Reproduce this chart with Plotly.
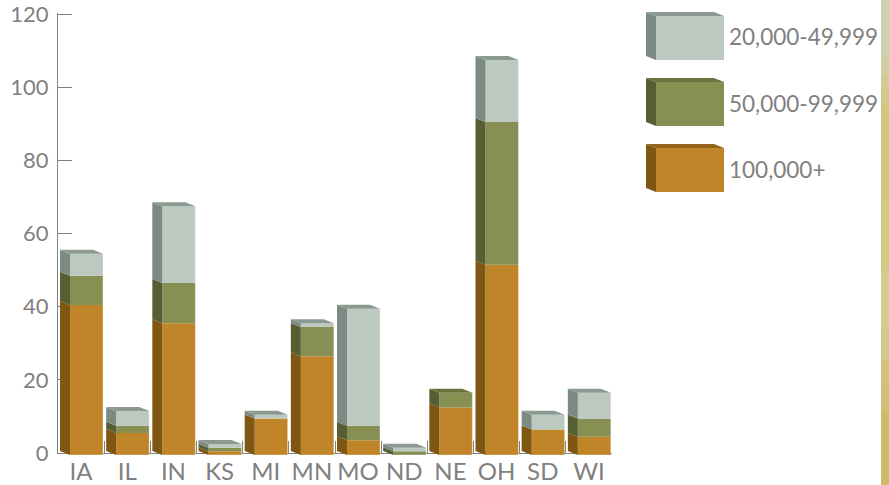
import plotly.graph_objects as go

states = ["IA", "IL", "IN", "KS", "MI", "MN", "MO", "ND", "NE", "OH", "SD", "WI"]
band_100k = [41, 6, 36, 1, 10, 27, 4, 0, 13, 52, 7, 5]
band_50k = [8, 2, 11, 1, 0, 8, 4, 1, 4, 39, 0, 5]
band_20k = [6, 4, 21, 1, 1, 1, 32, 1, 0, 17, 4, 7]
y_ticks = [0, 20, 40, 60, 80, 100, 120]

series = [
    ("100,000+", band_100k, "#C08529", "#7F5712", "#946518"),
    ("50,000-99,999", band_50k, "#878F52", "#565F33", "#6A733F"),
    ("20,000-49,999", band_20k, "#BCC9C0", "#7C8A84", "#8A9A90"),
]

W, H = 889, 485
GREY = "#808080"
FONT = "Lato"

# pixel geometry of the axes frame and of the extruded bars
AX_L, AX_R, AX_T, AX_B = 58, 612, 14, 453
PX_X = (AX_R - AX_L) / 12
PX_Y = (AX_B - AX_T) / 120
BAR_W, DEPTH_X, DEPTH_Y = 33, 10, 4
FRONT_X0, FRONT_Y0 = 86.5, 455
# a sliver of headroom keeps the top tick inside the y range
Y_HEAD = 0.3

# the marks live on their own wider subplot so the depth faces are not clipped
M_L, M_R, M_T, M_B = 40, 640, 4, 470
x2_range = [(M_L - FRONT_X0) / PX_X, (M_R - FRONT_X0) / PX_X]
y2_range = [(FRONT_Y0 - M_B) / PX_Y, (FRONT_Y0 - M_T) / PX_Y]
half = BAR_W / PX_X / 2
dx, dy = DEPTH_X / PX_X, DEPTH_Y / PX_Y

fig = go.Figure()

# carries the category axis with its ticks between the states
fig.add_trace(go.Scatter(x=states, y=[0] * 12, mode="none", showlegend=False,
                         hoverinfo="skip", xaxis="x", yaxis="y"))

index = list(range(len(states)))
cum = [0] * len(states)
tops = {}
for name, vals, front, side, top in series:
    sx, sy = [], []
    for i, v in enumerate(vals):
        if v:
            xl, lo, hi = i - half, cum[i], cum[i] + v
            sx += [xl, xl, xl - dx, xl - dx, xl, None]
            sy += [lo, hi, hi + dy, lo + dy, lo, None]
            tops[i] = (hi, top)
    fig.add_trace(go.Scatter(x=sx, y=sy, mode="lines", line=dict(width=0), fill="toself",
                             fillcolor=side, showlegend=False, hoverinfo="skip",
                             xaxis="x2", yaxis="y2"))
    fig.add_trace(go.Bar(x=index, y=vals, base=cum, width=BAR_W / PX_X, name=name,
                         marker=dict(color=front, line=dict(width=0)),
                         showlegend=False, xaxis="x2", yaxis="y2"))
    cum = [c + v for c, v in zip(cum, vals)]

# top faces take the colour of the highest non-empty band
for i, (hi, color) in tops.items():
    xl, xr = i - half, i + half
    fig.add_trace(go.Scatter(x=[xl, xr, xr - dx, xl - dx, xl], y=[hi, hi, hi + dy, hi + dy, hi],
                             mode="lines", line=dict(width=0), fill="toself", fillcolor=color,
                             showlegend=False, hoverinfo="skip", xaxis="x2", yaxis="y2"))

# thin highlight along the bottom and right of every front face
for i in index:
    xr = i + half
    fig.add_trace(go.Scatter(x=[i - half, xr, xr], y=[0, 0, cum[i]], mode="lines",
                             line=dict(width=1, color="rgba(255,255,255,0.35)"),
                             showlegend=False, hoverinfo="skip", xaxis="x2", yaxis="y2"))

shapes, annotations = [], []

def px_x(v):
    return v / W

def px_y(v):
    return 1 - v / H

def poly(points, color):
    path = "M " + " L ".join(f"{px_x(x):.5f},{px_y(y):.5f}" for x, y in points) + " Z"
    return dict(type="path", xref="paper", yref="paper", path=path,
                fillcolor=color, line=dict(width=0), layer="above")

# legend keys: same extruded block as the bars
LEG_L, LEG_R, LEG_H = 656, 724, 44
for (name, _, front, side, top), t, ty in zip(reversed(series), [16, 82, 148], [37, 103, 169]):
    b = t + LEG_H
    shapes.append(poly([(LEG_L, t), (LEG_L, b), (LEG_L - 10, b - 4), (LEG_L - 10, t - 4)], side))
    shapes.append(poly([(LEG_L, t), (LEG_R, t), (LEG_R - 10, t - 4), (LEG_L - 10, t - 4)], top))
    shapes.append(poly([(LEG_L, t), (LEG_R, t), (LEG_R, b), (LEG_L, b)], front))
    annotations.append(dict(text=name, xref="paper", yref="paper", x=px_x(727), y=px_y(ty),
                            xanchor="left", yanchor="middle", showarrow=False,
                            font=dict(family=FONT, size=22.5, color=GREY)))

# textured backdrop strip at the right edge
strip_bands = [(0, 60, "#CED2AC"), (60, 75, "#D0CFA3"), (75, 90, "#D2CB96"), (90, 105, "#D3C88A"),
               (105, 200, "#D3C67F"), (200, 270, "#D4C985"), (270, 330, "#D2CC93"),
               (330, 360, "#D2C98A"), (360, 385, "#D2C47E"), (385, 410, "#D0BF74"),
               (410, 485, "#CFBB6A")]
for y0, y1, c in strip_bands:
    shapes.append(dict(type="rect", xref="paper", yref="paper", x0=px_x(881), x1=1,
                       y0=px_y(y1), y1=px_y(y0), fillcolor=c, line=dict(width=0), layer="below"))

fig.update_layout(
    width=W, height=H, margin=dict(l=0, r=0, t=0, b=0, autoexpand=False),
    paper_bgcolor="white", plot_bgcolor="rgba(0,0,0,0)",
    barmode="overlay", showlegend=False, shapes=shapes, annotations=annotations,
    font=dict(family=FONT, size=22, color=GREY),
    xaxis=dict(domain=[px_x(AX_L), px_x(AX_R)], type="category", categoryorder="array",
               categoryarray=states, range=[-0.5, 11.5], tickson="boundaries", ticks="inside",
               ticklen=12, tickcolor=GREY, tickwidth=1, showline=True, linecolor=GREY,
               showgrid=False, zeroline=False, fixedrange=True, automargin=False, tickangle=0,
               ticklabeloverflow="allow", ticklabelstandoff=-3,
               tickfont=dict(family=FONT, size=24, color=GREY)),
    yaxis=dict(domain=[px_y(AX_B), px_y(AX_T - Y_HEAD * PX_Y)], range=[0, 120 + Y_HEAD],
               tickvals=y_ticks, ticks="inside",
               ticklen=14, tickcolor=GREY, tickwidth=1, showline=True, linecolor=GREY,
               showgrid=False, zeroline=False, fixedrange=True, automargin=False,
               ticklabeloverflow="allow",
               ticklabelstandoff=4, tickfont=dict(family=FONT, size=22, color=GREY)),
    xaxis2=dict(domain=[px_x(M_L), px_x(M_R)], range=x2_range, anchor="y2", visible=False,
                fixedrange=True, automargin=False),
    yaxis2=dict(domain=[px_y(M_B), px_y(M_T)], range=y2_range, anchor="x2", visible=False,
                fixedrange=True, automargin=False),
)

fig.write_html("out.html")
